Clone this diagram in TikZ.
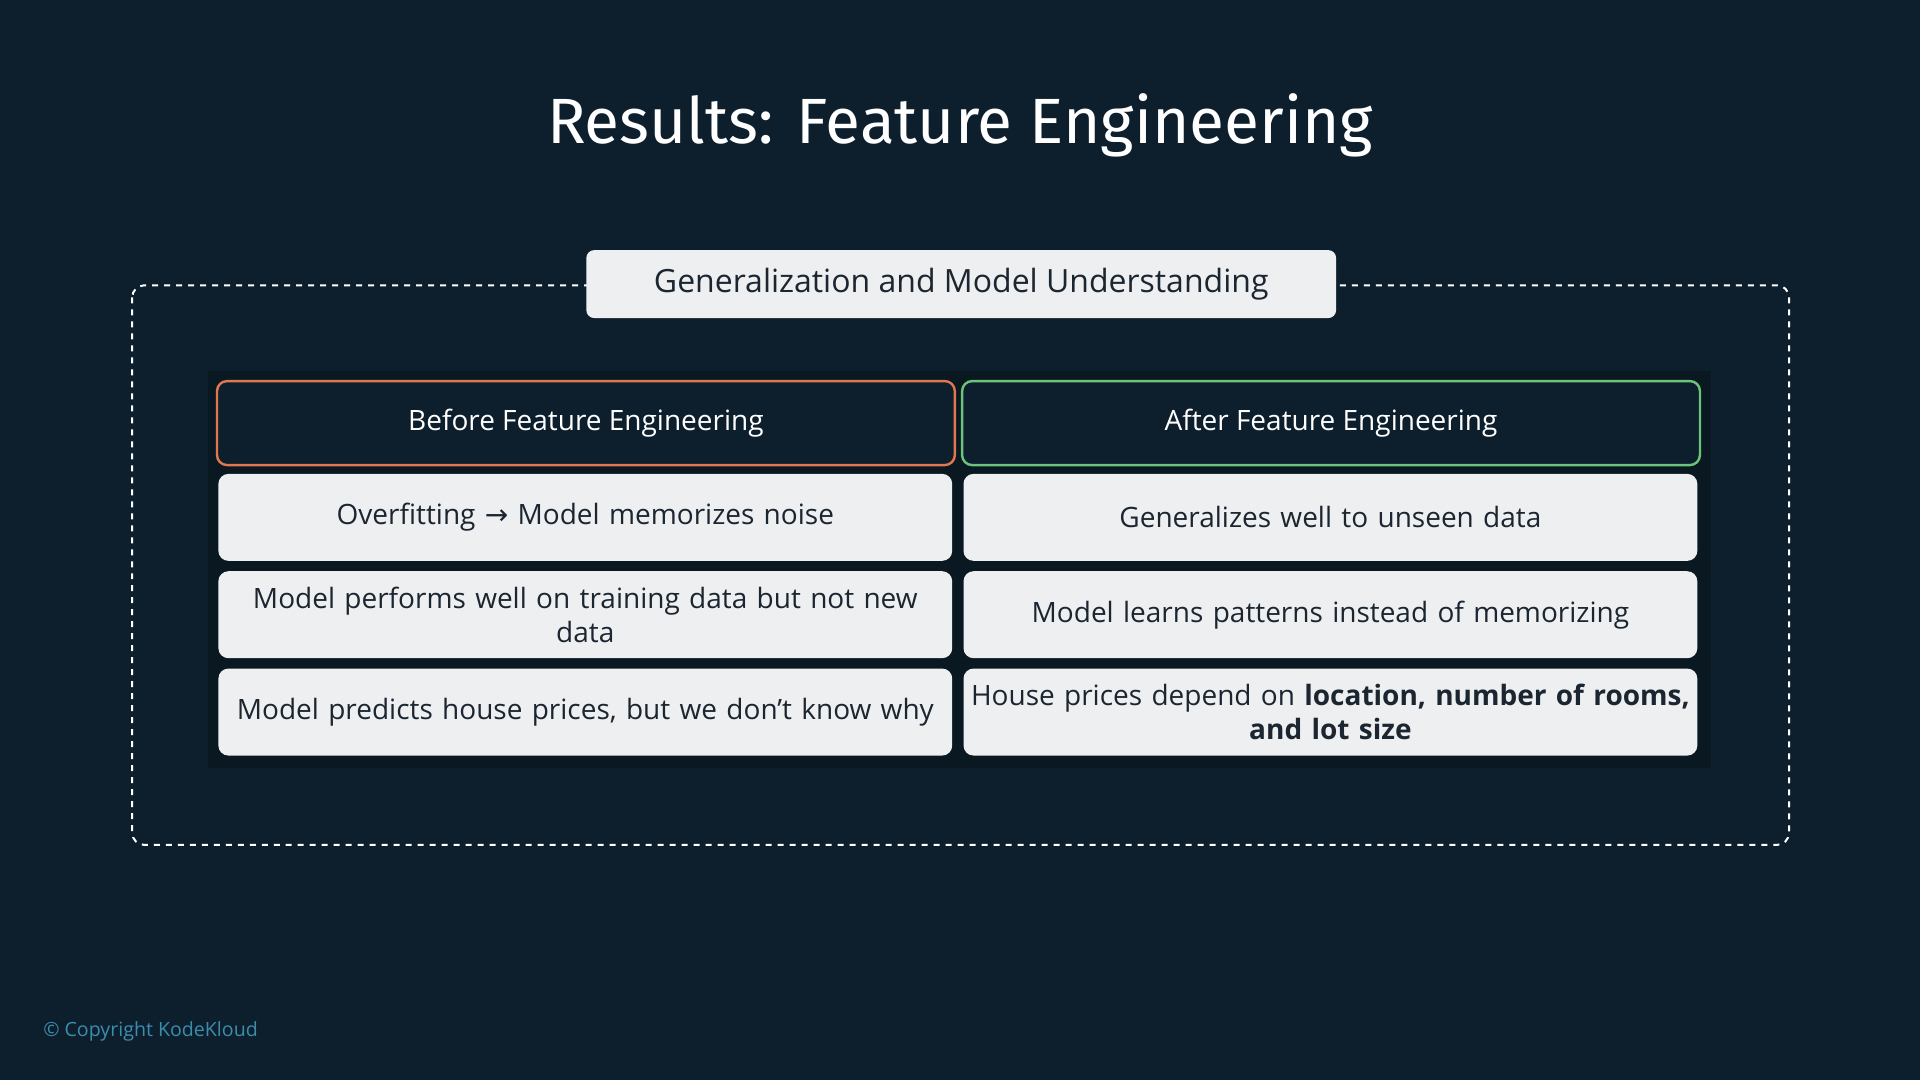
\documentclass[tikz,border=0pt]{standalone}
\usepackage{fontspec}
\setmainfont{Open Sans}
\newfontfamily\titlefont{Fira Sans}
\newfontfamily\symfont{DejaVu Sans}
\usepackage{xcolor}
\usetikzlibrary{positioning}
\definecolor{bgdark}{HTML}{0D1F2D}
\definecolor{paneldark}{HTML}{0A1822}
\definecolor{celllight}{HTML}{EEEFF1}
\definecolor{celltext}{HTML}{1B2631}
\definecolor{beforeline}{HTML}{E0774E}
\definecolor{afterline}{HTML}{6CC47A}
\definecolor{copytext}{HTML}{3B8DAE}
\tikzset{
    cellnode/.style = {align=center, inner sep=0pt, text centered},
    light_cell/.style = {cellnode, rectangle, rounded corners=5pt, fill=celllight, text=celltext, minimum width=367pt, minimum height=43.5pt, text width=360pt, font=\fontsize{14}{17}\selectfont},
    head_cell/.style = {cellnode, rectangle, rounded corners=5pt, fill=bgdark, text=white, line width=1.2pt, minimum width=369pt, minimum height=42pt, font=\fontsize{14}{17}\selectfont}
}
\begin{document}
\begin{tikzpicture}[x=0.6124pt, y=-0.6124pt]
    \fill [bgdark] (0,0) rectangle (1568,882);
    \useasboundingbox (0,0) rectangle (1568,882);

    \node (title) at (784,102) [text=white, font=\titlefont\fontsize{32}{38}\selectfont] {Results: Feature Engineering};

    \draw [white, dashed, line width=1pt, rounded corners=6pt] (108,233) rectangle (1461,690);
    \node (group) at (785,232) [cellnode, rectangle, rounded corners=4pt, fill=celllight, text=celltext, minimum width=375pt, minimum height=34pt, font=\fontsize{16}{19}\selectfont] {Generalization and Model Understanding};

    \fill [paneldark] (170,303) rectangle (1397,627);

    \node (before) at (478.5,345.5) [head_cell, draw=beforeline] {Before Feature Engineering};
    \node (after) at (1087,345.5) [head_cell, draw=afterline] {After Feature Engineering};

    \node (b1) at (478,422.5) [light_cell] {Overfitting {\symfont →} Model memorizes noise};
    \node (b2) at (478,502) [light_cell] {Model performs well on training data but not new\\data};
    \node (b3) at (478,581.5) [light_cell] {Model predicts house prices, but we don’t know why};

    \node (a1) at (1086.5,422.5) [light_cell] {Generalizes well to unseen data};
    \node (a2) at (1086.5,502) [light_cell] {Model learns patterns instead of memorizing};
    \node (a3) at (1086.5,581.5) [light_cell] {House prices depend on \textbf{location, number of rooms,}\\\textbf{and lot size}};

    \node (copy) at (35,842) [anchor=west, inner sep=0pt, text=copytext, font=\fontsize{9.8}{11}\selectfont] {\symbol{"00A9} Copyright KodeKloud};
\end{tikzpicture}
\end{document}
